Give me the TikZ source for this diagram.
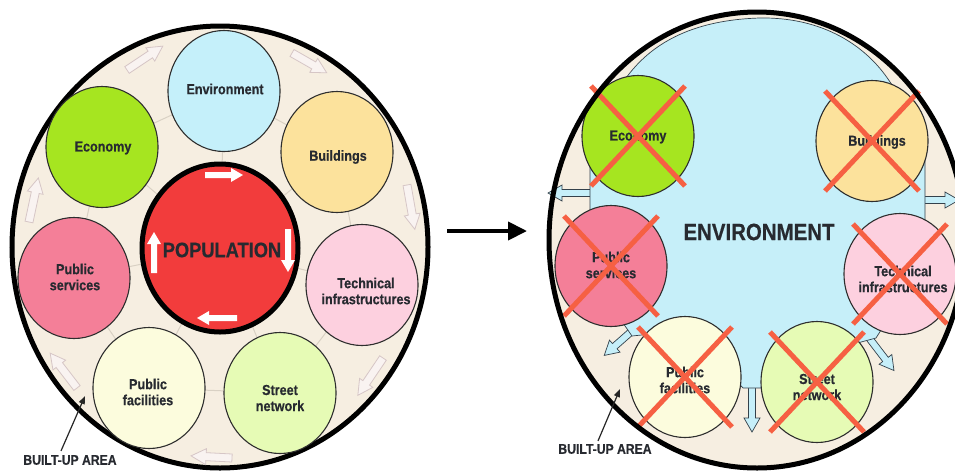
\documentclass[tikz,border=0pt]{standalone}
\usepackage{fontspec}
\newfontfamily\lblfont{Liberation Sans Bold}[FakeStretch=0.87, FakeBold=0.5]
\usetikzlibrary{shapes.geometric,arrows.meta,calc}

\definecolor{ringbeige}{HTML}{F6EEE1}
\definecolor{circline}{HTML}{2E2E2E}
\definecolor{labeltext}{HTML}{272A30}
\definecolor{cenv}{HTML}{C5F0FA}
\definecolor{ceco}{HTML}{A6E520}
\definecolor{cbld}{HTML}{FCE29C}
\definecolor{csrv}{HTML}{F47F98}
\definecolor{ctec}{HTML}{FDD0DF}
\definecolor{cfac}{HTML}{FCFCDD}
\definecolor{cstr}{HTML}{E6FBB5}
\definecolor{cpop}{HTML}{F23C3C}
\definecolor{envblue}{HTML}{C6EFF9}
\definecolor{blueedge}{HTML}{34414B}
\definecolor{xred}{HTML}{F66043}
\definecolor{webline}{HTML}{D9D1C4}
\definecolor{faintfill}{HTML}{F9F3F1}
\definecolor{faintedge}{HTML}{D6C6C6}

\tikzset{
  bubble/.style={ellipse, draw=circline, line width=1.1pt, minimum width=112pt,
    minimum height=121pt, inner sep=0pt},
  lbl/.style={font=\lblfont\fontsize{14.5}{16}\selectfont, text=labeltext,
    align=center, inner sep=0pt},
  biglbl/.style={font=\lblfont\fontsize{#1}{#1}\selectfont, text=labeltext,
    inner sep=0pt},
  crossline/.style={draw=xred, line width=5pt},
  web/.style={draw=webline, line width=1pt},
  faintarrow/.style={fill=faintfill, draw=faintedge, line width=0.8pt},
  poparrow/.style={fill=white},
  bluearrow/.style={fill=envblue, draw=blueedge, line width=0.7pt},
  pointer/.style={draw=black!85, line width=1.2pt, -{Triangle[length=8pt,width=6pt]}},
  pics/blockarrow/.style n args={4}{code={
    % tail at the origin, tip at (#1,0); shaft half width #2, head half width #3, head length #4
    \path[pic actions] (0,-#2) -- ({#1-#4},-#2) -- ({#1-#4},-#3) -- (#1,0)
      -- ({#1-#4},#3) -- ({#1-#4},#2) -- (0,#2) -- cycle;
  }}
}

\newcommand{\crossout}[1]{%
  \draw[crossline] ($(#1)+(-47,-50)$) -- ($(#1)+(47,50)$);
  \draw[crossline] ($(#1)+(47,-50)$) -- ($(#1)+(-47,50)$);
}

\begin{document}
\begin{tikzpicture}[x=1pt,y=-1pt]
\useasboundingbox (0,0) rectangle (955,472);
\fill[white] (0,0) rectangle (955,472);
\begin{scope}
\clip (0,0) rectangle (955,472);

% ---------------- built-up area before ----------------
\node[ellipse, draw=black, line width=5pt, fill=ringbeige, minimum width=416pt,
  minimum height=442pt, inner sep=0pt] (ringL) at (220,247) {};

% faint circulation arrows in the ring
\pic[faintarrow, rotate=33.7]  (fa1) at (127,70)  {blockarrow={43}{4}{8}{15}};
\pic[faintarrow, rotate=-29.7] (fa2) at (292,53)  {blockarrow={40}{4}{8}{15}};
\pic[faintarrow, rotate=-80]   (fa3) at (407,185) {blockarrow={45}{4}{8}{15}};
\pic[faintarrow, rotate=-124]  (fa4) at (383,358) {blockarrow={45}{4}{8}{15}};
\pic[faintarrow, rotate=177]   (fa5) at (232,458) {blockarrow={41}{4}{8}{15}};
\pic[faintarrow, rotate=127.6] (fa6) at (77,388)  {blockarrow={44}{4}{8}{15}};
\pic[faintarrow, rotate=78]    (fa7) at (29,222)  {blockarrow={45}{4}{8}{15}};

% centres of the circles
\coordinate (cEnv) at (224,91);
\coordinate (cEco) at (102,147);
\coordinate (cBld) at (337,152);
\coordinate (cSrv) at (74,278);
\coordinate (cTec) at (362,285);
\coordinate (cFac) at (149,388);
\coordinate (cStr) at (280,393);
\coordinate (cPop) at (220,248);

% thin links between the circles
\draw[web] (cEnv) -- (cBld) -- (cTec) -- (cStr) -- (cFac) -- (cSrv) -- (cEco) -- cycle;
\foreach \c in {cEnv,cBld,cTec,cStr,cFac,cSrv,cEco} \draw[web] (cPop) -- (\c);

\node[bubble, fill=cenv] (envL) at (cEnv) {};
\node[bubble, fill=ceco] (ecoL) at (cEco) {};
\node[bubble, fill=cbld] (bldL) at (cBld) {};
\node[bubble, fill=csrv] (srvL) at (cSrv) {};
\node[bubble, fill=ctec] (tecL) at (cTec) {};
\node[bubble, fill=cfac] (facL) at (cFac) {};
\node[bubble, fill=cstr] (strL) at (cStr) {};
\node[ellipse, draw=black, line width=5pt, fill=cpop, minimum width=156pt,
  minimum height=168pt, inner sep=0pt] (popL) at (cPop) {};

\node[lbl] (envLt) at (225,89)  {Environment};
\node[lbl] (ecoLt) at (103,148) {Economy};
\node[lbl] (bldLt) at (338,157) {Buildings};
\node[lbl] (srvLt) at (75,277)  {Public\\services};
\node[lbl] (tecLt) at (366,291) {Technical\\infrastructures};
\node[lbl] (facLt) at (148,392) {Public\\facilities};
\node[lbl] (strLt) at (280,398) {Street\\network};
\node[biglbl=21] (popLt) at (222,250) {POPULATION};

% circulation of the population
\pic[poparrow, rotate=0]   (pa1) at (205,175) {blockarrow={38}{3}{7}{12}};
\pic[poparrow, rotate=-90] (pa2) at (288,229) {blockarrow={43}{3}{7}{12}};
\pic[poparrow, rotate=180] (pa3) at (237,318) {blockarrow={40}{3}{7}{12}};
\pic[poparrow, rotate=90]  (pa4) at (154,273) {blockarrow={41}{3}{7}{12}};

\node[biglbl=14, anchor=center] (buaL) at (70,460) {BUILT-UP AREA};
\coordinate (buaLtip) at (85,396);
\draw[pointer] (buaL.north) ++(-9,-4) coordinate (buaLtail) -- (buaLtip);

% ---------------- transition ----------------
\coordinate (stepA) at (447,231);
\coordinate (stepB) at (527,231);
\draw[line width=4pt, -{Triangle[length=19pt,width=18pt]}] (stepA) -- (stepB);

% ---------------- built-up area after ----------------
\node[ellipse, fill=ringbeige, minimum width=416pt, minimum height=456pt,
  inner sep=0pt] (ringR) at (757,240) {};

% arrows of the environment flowing out
\pic[bluearrow, rotate=180]    (ba1) at (592,193) {blockarrow={44}{3.5}{8}{14}};
\pic[bluearrow, rotate=-138.6] (ba2) at (641,323) {blockarrow={49}{3.5}{8}{14}};
\pic[bluearrow, rotate=-90]    (ba3) at (752,382) {blockarrow={50}{3.5}{8}{14}};
\pic[bluearrow, rotate=-52.6]  (ba4) at (863,330) {blockarrow={51}{3.5}{8}{14}};
\pic[bluearrow, rotate=0]      (ba5) at (921,200) {blockarrow={38}{3.5}{8}{14}};

% the environment spreading between the remaining functions
\path[fill=envblue, draw=blueedge, line width=0.7pt]
  (626,78) .. controls (650,45) and (690,20) .. (760,18)
  .. controls (822,17) and (866,45) .. (890,82)
  -- (925,130) -- (925,240) -- (900,300) -- (876,338) -- (850,345)
  -- (762,388) -- (743,388) -- (690,330) -- (632,336) -- (600,290)
  -- (590,240) -- (590,150) -- cycle;

\node[bubble, fill=ceco] (ecoR) at (638,136) {};
\node[bubble, fill=cbld] (bldR) at (872,141) {};
\node[bubble, fill=csrv] (srvR) at (611,266) {};
\node[bubble, fill=ctec] (tecR) at (900,274) {};
\node[bubble, fill=cfac] (facR) at (685,377) {};
\node[bubble, fill=cstr] (strR) at (817,382) {};

\node[lbl] (ecoRt) at (638,137) {Economy};
\node[lbl] (bldRt) at (877,142) {Buildings};
\node[lbl] (srvRt) at (611,265) {Public\\services};
\node[lbl] (tecRt) at (903,279) {Technical\\infrastructures};
\node[lbl] (facRt) at (685,380) {Public\\facilities};
\node[lbl] (strRt) at (817,387) {Street\\network};

\node[biglbl=23.5] (envRt) at (759,232) {ENVIRONMENT};

\crossout{ecoR}
\crossout{bldR}
\crossout{srvR}
\crossout{tecR}
\crossout{facR}
\crossout{strR}

\node[ellipse, draw=black, line width=5pt, minimum width=416pt, minimum height=456pt,
  inner sep=0pt] (ringRborder) at (757,240) {};

\node[biglbl=14] (buaR) at (605,449) {BUILT-UP AREA};
\coordinate (buaRtip) at (620,389);
\draw[pointer] (buaR.north) ++(-7,-3) coordinate (buaRtail) -- (buaRtip);

\end{scope}
\end{tikzpicture}
\end{document}
